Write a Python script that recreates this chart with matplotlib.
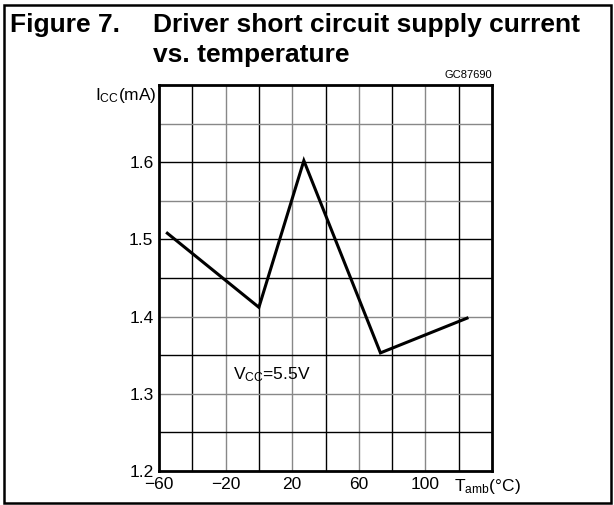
import matplotlib
matplotlib.use("Agg")
import matplotlib.pyplot as plt
from matplotlib.patches import Rectangle

# data
temp = [-55, 0, 27, 73, 125]
icc = [1.508, 1.412, 1.602, 1.353, 1.398]

xticks = [-60, -20, 20, 60, 100]
xtick_labels = ["\u221260", "\u221220", "20", "60", "100"]
yticks = [1.2, 1.3, 1.4, 1.5, 1.6]
yticks_labels = ["1.2", "1.3", "1.4", "1.5", "1.6"]

plt.rcParams['font.family'] = ['Liberation Sans', 'DejaVu Sans']
plt.rcParams['mathtext.default'] = 'regular'

W, H = 614, 505
fig = plt.figure(figsize=(W / 100, H / 100), dpi=100)

# plot area in pixels: left 159, right 492, top 85, bottom 471
ax = fig.add_axes([159 / W, (H - 471) / H, (492 - 159) / W, (471 - 85) / H])
ax.set_xlim(-60, 140)
ax.set_ylim(1.2, 1.7)

# grid: vertical lines every 20, horizontal every 0.05
for x, c in zip([-40, -20, 0, 20, 40, 60, 80, 100, 120],
                ['#000', '#888', '#000', '#888', '#000', '#888', '#000', '#888', '#000']):
    ax.axvline(x, color=c, lw=1.0, zorder=1)
for y, c in zip([1.25, 1.3, 1.35, 1.4, 1.45, 1.5, 1.55, 1.6, 1.65],
                ['#000', '#888', '#000', '#888', '#000', '#000', '#888', '#000', '#888']):
    ax.axhline(y, color=c, lw=1.0, zorder=1)

ax.plot(temp, icc, color='black', lw=2.2, zorder=3, solid_joinstyle='miter')

ax.set_xticks(xticks)
ax.set_xticklabels(xtick_labels)
ax.set_yticks(yticks)
ax.set_yticklabels(yticks_labels)
ax.tick_params(length=0, labelsize=12.5, pad=4)
ax.tick_params(axis='x', pad=4)
for s in ax.spines.values():
    s.set_linewidth(2.0)

ax.text(-0.006, 0.974, r"I$_{CC}$(mA)", transform=ax.transAxes,
        ha='right', va='center', fontsize=12.5)
ax.text(117, -0.041, r"T$_{amb}$(°C)", transform=ax.get_xaxis_transform(),
        ha='left', va='center', fontsize=12.5)
ax.text(-15.6, 1.325, r"V$_{CC}$=5.5V", ha='left', va='center', fontsize=12.5)
ax.text(1.0, 1.013, "GC87690", transform=ax.transAxes, ha='right', va='bottom',
        fontsize=8)

# title
fig.text(10 / W, 1 - 32 / H, "Figure 7.", fontsize=19, fontweight='bold', va='baseline')
fig.text(153 / W, 1 - 32 / H, "Driver short circuit supply current", fontsize=19,
         fontweight='bold', va='baseline')
fig.text(153 / W, 1 - 62 / H, "vs. temperature", fontsize=19, fontweight='bold',
         va='baseline')

# frame around the figure
fig.add_artist(Rectangle((3.5 / W, 2.5 / H), (611 - 3.5) / W, (500.5 - 2.5) / H,
                         transform=fig.transFigure, fill=False, lw=1.8, color='black'))

fig.savefig("out.png", dpi=100)
